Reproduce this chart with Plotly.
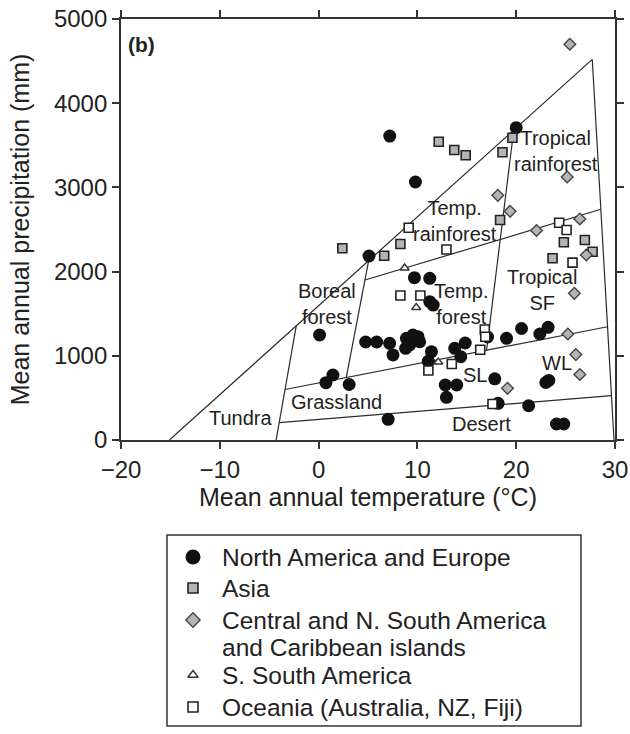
import plotly.graph_objects as go

# ---- data: mean annual temperature (°C) and precipitation (mm) ----
na_eu_T = [7.2, 20.0, 9.8, 5.1, 9.7, 11.25, 11.25, 11.6, 0.1, 4.76, 5.88, 7.19, 7.53,
           8.89, 9.55, 10.06, 9.22, 8.81, 10.23, 11.42, 11.1, 13.78, 14.84, 14.39,
           1.45, 0.74, 3.09, 7.04, 12.82, 13.98, 12.94, 17.83, 18.17, 21.26, 19.02,
           20.54, 22.39, 23.23, 23.0, 23.3, 24.08, 24.82, 17.1]
na_eu_P = [3610, 3709, 3064, 2185, 1928, 1920, 1643, 1603, 1247, 1164, 1164, 1148, 1010,
           1208, 1247, 1227, 1128, 1089, 1167, 1049, 935, 1089, 1152, 989,
           772, 681, 659, 246, 653, 653, 507, 727, 436, 407, 1208,
           1324, 1259, 1338, 683, 707, 190, 190, 1223]

asia_T = [12.16, 13.73, 14.89, 18.61, 19.62, 2.40, 6.64, 8.28, 18.37, 23.68, 24.82, 26.95, 27.73]
asia_P = [3543, 3444, 3381, 3418, 3590, 2277, 2189, 2328, 2613, 2158, 2348, 2375, 2236]

camer_T = [25.43, 25.16, 18.14, 19.38, 22.06, 26.44, 27.1, 25.89, 25.23, 26.04, 26.44, 19.12]
camer_P = [4700, 3124, 2906, 2716, 2488, 2625, 2197, 1742, 1259, 1015, 778, 614]

ssa_T = [8.71, 9.88, 12.11]
ssa_P = [2043, 1574, 926]

ocea_T = [9.12, 12.94, 24.35, 25.10, 25.70, 8.28, 10.30, 16.82, 16.87, 16.36, 11.11, 13.48, 17.60]
ocea_P = [2521, 2262, 2581, 2494, 2106, 1716, 1716, 1312, 1227, 1072, 825, 903, 428]

# ---- biome boundaries (Whittaker-style) ----
outer_T = [-15.1, 27.7, 29.9]
outer_P = [0, 4520, 0]
tundra_T = [-4.3, -2.25]
tundra_P = [0, 1365]
desert_T = [-4.0, 29.64]
desert_P = [206, 526]
grass_T = [-3.4, 29.25]
grass_P = [600, 1345]
boreal_T = [2.8, 5.1]
boreal_P = [742, 2150]
trf_T = [4.7, 28.57]
trf_P = [1900, 2740]
trop_T = [17.0, 19.75]
trop_P = [1065, 3680]

boundaries = [(outer_T, outer_P), (tundra_T, tundra_P), (desert_T, desert_P),
              (grass_T, grass_P), (boreal_T, boreal_P), (trf_T, trf_P), (trop_T, trop_P)]

series_names = ["North America and Europe", "Asia",
                "Central and N. South America\nand Caribbean islands",
                "S. South America", "Oceania (Australia, NZ, Fiji)"]

FONT = "Liberation Sans, Arial, Helvetica, sans-serif"
LINE = "#2a2a2a"
GRAY = "#b4b4b4"
TXT = "#222222"

W, H = 630, 734
M_L, M_R, M_T, M_B = 121, 15, 19, 0
PLOT_BOTTOM_PX = 440          # pixel row of the x axis
y_dom0 = (H - M_B - PLOT_BOTTOM_PX) / (H - M_T - M_B)

styles = [
    dict(symbol="circle", size=13, color="#111111", line=dict(width=0)),
    dict(symbol="square", size=9, color=GRAY, line=dict(width=1.6, color="#222222")),
    dict(symbol="diamond", size=9, color=GRAY, line=dict(width=1.4, color="#444444")),
    dict(symbol="triangle-up", size=8, color="white", line=dict(width=1.4, color="#333333")),
    dict(symbol="square", size=9, color="white", line=dict(width=1.6, color="#222222")),
]
legend_styles = [
    dict(symbol="circle", size=15, color="#111111", line=dict(width=0)),
    dict(symbol="square", size=10, color=GRAY, line=dict(width=1.6, color="#222222")),
    dict(symbol="diamond", size=11, color=GRAY, line=dict(width=1.4, color="#444444")),
    dict(symbol="triangle-up", size=9, color="white", line=dict(width=1.4, color="#333333")),
    dict(symbol="square", size=10, color="white", line=dict(width=1.6, color="#222222")),
]
series = [(na_eu_T, na_eu_P), (asia_T, asia_P), (camer_T, camer_P), (ssa_T, ssa_P), (ocea_T, ocea_P)]

fig = go.Figure()
for bt, bp in boundaries:
    fig.add_trace(go.Scatter(x=bt, y=bp, mode="lines", line=dict(color=LINE, width=1.2),
                             showlegend=False, hoverinfo="skip"))

for (sx, sy), nm, st in zip(series, series_names, styles):
    fig.add_trace(go.Scatter(x=sx, y=sy, mode="markers", name=nm.replace("\n", " "),
                             marker=st, showlegend=False))

# ---- legend panel (drawn on a pixel-scaled overlay axis) ----
leg_left, leg_top, leg_right, leg_bottom = 167, 535, 581, 726
leg_sym_x, leg_txt_x = 193, 220
row_y = [557, 588, 620, 675, 707]
second_line_y = 647
fig.add_shape(type="rect", xref="x2", yref="y2", x0=leg_left, x1=leg_right,
              y0=leg_top, y1=leg_bottom, line=dict(color="#333333", width=1.5),
              fillcolor="rgba(0,0,0,0)", layer="below")
for nm, st, ry in zip(series_names, legend_styles, row_y):
    fig.add_trace(go.Scatter(x=[leg_sym_x], y=[ry], xaxis="x2", yaxis="y2", mode="markers",
                             marker=st, showlegend=False, hoverinfo="skip"))
    lines = nm.split("\n")
    for k, ln in enumerate(lines):
        fig.add_annotation(x=leg_txt_x, y=ry if k == 0 else second_line_y, xref="x2", yref="y2",
                           text=ln, showarrow=False, xanchor="left", yanchor="middle",
                           font=dict(family=FONT, size=24.5, color=TXT))

labels = [
    ("Tropical<br>rainforest", 24.0, 3432),
    ("Temp.<br>rainforest", 13.78, 2601),
    ("Boreal<br>forest", 0.86, 1615),
    ("Temp.<br>forest", 14.44, 1621),
    ("Tropical<br>SF", 22.6, 1787),
    ("SL", 15.8, 772),
    ("WL", 24.16, 911),
    ("Grassland", 1.79, 455),
    ("Tundra", -7.87, 258),
    ("Desert", 16.44, 190),
]
for txt, lx, ly in labels:
    fig.add_annotation(x=lx, y=ly, text=txt, showarrow=False, xref="x", yref="y",
                       font=dict(family=FONT, size=20, color=TXT))
fig.add_annotation(x=-17.9, y=4703, text="<b>(b)</b>", showarrow=False, xref="x", yref="y",
                   font=dict(family=FONT, size=21, color=TXT))

axis_common = dict(showgrid=False, zeroline=False, showline=True, linecolor="#333333",
                   linewidth=1.8, mirror="ticks", ticks="outside", ticklen=7, tickwidth=1.8,
                   tickcolor="#333333", automargin=False,
                   tickfont=dict(family=FONT, size=24, color=TXT))

fig.update_layout(
    xaxis=dict(range=[-20, 30], domain=[0, 1], anchor="y",
               tickvals=[-20, -10, 0, 10, 20, 30],
               ticktext=["\u221220", "\u221210", "0", "10", "20", "30"],
               title=dict(text="Mean annual temperature (°C)",
                          font=dict(family=FONT, size=25, color=TXT), standoff=4),
               **axis_common),
    yaxis=dict(range=[0, 5000], domain=[y_dom0, 1], anchor="x",
               tickvals=[0, 1000, 2000, 3000, 4000, 5000],
               title=dict(text="Mean annual precipitation (mm)",
                          font=dict(family=FONT, size=25, color=TXT), standoff=17),
               **axis_common),
    xaxis2=dict(range=[M_L, W - M_R], domain=[0, 1], anchor="y2", visible=False,
                fixedrange=True),
    yaxis2=dict(range=[H - M_B, M_T], domain=[0, 1], anchor="x2", visible=False,
                fixedrange=True),
    width=W, height=H,
    margin=dict(l=M_L, r=M_R, t=M_T, b=M_B),
    paper_bgcolor="white", plot_bgcolor="rgba(0,0,0,0)",
    showlegend=False,
)

fig.write_html("out.html", config={"displayModeBar": False},
               post_script="document.body.style.margin='0px';")
